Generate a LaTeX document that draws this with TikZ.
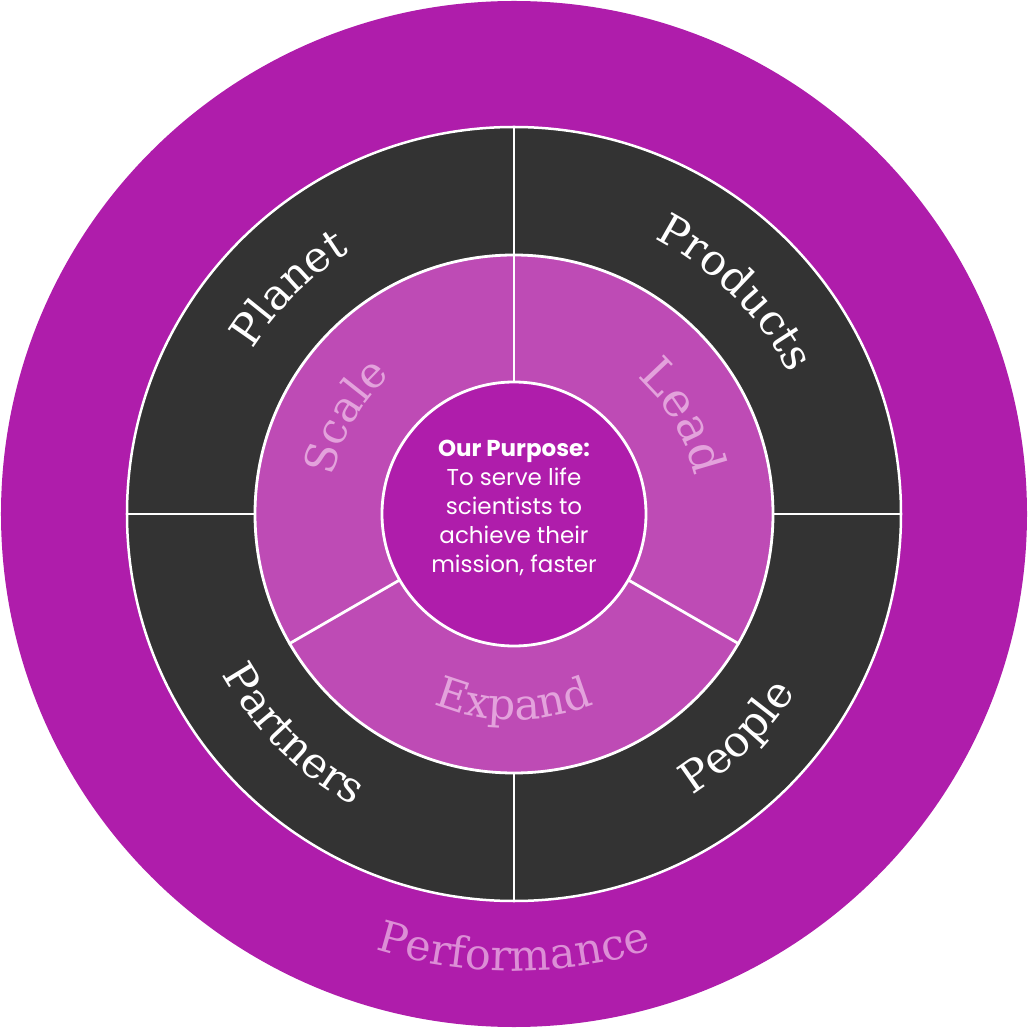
\documentclass[tikz,border=0pt]{standalone}
\usepackage{fontspec}
\usetikzlibrary{decorations.text}
\newfontfamily\lblfam{DejaVu Serif}
\newfontfamily\cfam{Poppins}
\definecolor{outerpurple}{HTML}{AF1DAB}
\definecolor{ringpink}{HTML}{BE4BB5}
\definecolor{darkring}{HTML}{333333}
\definecolor{softpink}{HTML}{E3A2DC}
\definecolor{perfpink}{HTML}{DC8ED6}
\newcommand{\lblfont}{\lblfam\fontsize{43}{48}\selectfont}
\newcommand{\leadfont}{\lblfam\fontsize{47}{52}\selectfont}
\begin{document}
\begin{tikzpicture}[x=1pt,y=1pt,
  divider/.style={white, line width=2.8pt},
]
\useasboundingbox (-514,-516) rectangle (516,514);
% outer purple disc
\node[circle, fill=outerpurple, minimum size=1026pt, inner sep=0pt] (outer) at (0,0) {};
% dark ring
\node[circle, fill=darkring, draw=white, line width=2.5pt, minimum size=774pt, inner sep=0pt] (dark) at (0,0) {};
\coordinate (c) at (0,0);
\draw[divider] (c) -- (dark.north);
\draw[divider] (c) -- (dark.south);
\draw[divider] (c) -- (dark.east);
\draw[divider] (c) -- (dark.west);
% pink ring
\node[circle, fill=ringpink, draw=white, line width=2.8pt, minimum size=518pt, inner sep=0pt] (pink) at (0,0) {};
\draw[divider] (c) -- (pink.90);
\draw[divider] (c) -- (pink.-30);
\draw[divider] (c) -- (pink.210);
% centre circle
\node[circle, fill=outerpurple, draw=white, line width=2.8pt, minimum size=264pt, inner sep=0pt] (centre) at (0,0) {};
\node[align=center, text=white, font=\cfam\fontsize{23}{29}\selectfont] (purpose) at (0,6)
  {\textbf{Our Purpose:}\\To serve life\\scientists to\\achieve their\\mission, faster};
% dark ring labels
\path[decorate, decoration={text along path, text align=center, text color=white, text={|\lblfont|Planet}}]
  (180:309) arc[start angle=180, end angle=90, radius=309];
\path[decorate, decoration={text along path, text align=center, text color=white, text={|\lblfont|Products}}]
  (90:309) arc[start angle=90, end angle=0, radius=309];
\path[decorate, decoration={text along path, text align=center, text color=white, text={|\lblfont|Partners}}]
  (180:333) arc[start angle=180, end angle=270, radius=333];
\path[decorate, decoration={text along path, text align=center, text color=white, text={|\lblfont|People}}]
  (270:333) arc[start angle=270, end angle=360, radius=333];
% pink ring labels
\path[decorate, decoration={text along path, text align=center, text color=softpink, text={|\lblfont|Scale}}]
  (210:185) arc[start angle=210, end angle=90, radius=185];
\path[decorate, decoration={text along path, text align=center, text color=softpink, text={|\leadfont|Lead}}]
  (90:184) arc[start angle=90, end angle=-30, radius=184];
\path[decorate, decoration={text along path, text align=center, text color=softpink, text={|\lblfont|Expand}}]
  (210:206) arc[start angle=210, end angle=330, radius=206];
% outer label
\path[decorate, decoration={text along path, text align=center, text color=perfpink, text={|\lblfont|Performance}}]
  (180:457) arc[start angle=180, end angle=360, radius=457];
\end{tikzpicture}
\end{document}
